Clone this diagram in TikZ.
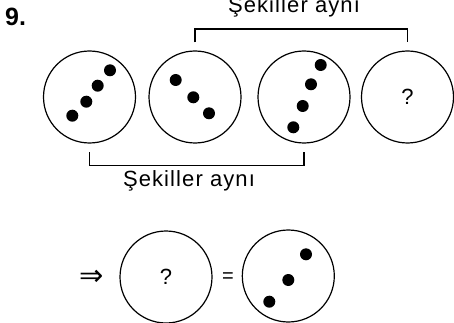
\documentclass[tikz,border=0pt]{standalone}
\usepackage{fontspec}
\setmainfont{Liberation Sans}
\newfontfamily\spacedfont[LetterSpace=5]{Liberation Sans}
\newfontfamily\symfont{DejaVu Sans}
\usetikzlibrary{calc}
\begin{document}
\begin{tikzpicture}[x=1pt,y=1pt,
  ring/.style={circle,draw,line width=1.2pt,minimum size=92pt,inner sep=0pt,font=\fontsize{22}{24}\selectfont},
  dot/.style={circle,fill=black,minimum size=12pt,inner sep=0pt},
  lbl/.style={font=\spacedfont\fontsize{22}{24}\selectfont,anchor=base,inner sep=0pt},
  brk/.style={line width=1.2pt}]
\useasboundingbox (0,-323) rectangle (454,0);
\node[anchor=base west,inner sep=0pt,font=\bfseries\fontsize{25}{28}\selectfont] (num) at (5,-26) {9.};
% top row
\node[ring] (c1) at (89.5,-97) {};
\node[ring] (c2) at (195,-97) {};
\node[ring] (c3) at (304,-97) {};
\node[ring] (c4) at (407.5,-97) {?};
% dots circle 1
\node[dot] (d11) at (110,-70.3) {};
\node[dot] (d12) at (97.7,-85.7) {};
\node[dot] (d13) at (86.3,-101.7) {};
\node[dot] (d14) at (72.3,-115.7) {};
% dots circle 2
\node[dot] (d21) at (175.7,-80) {};
\node[dot] (d22) at (193.3,-97.3) {};
\node[dot] (d23) at (209,-113.3) {};
% dots circle 3
\node[dot] (d31) at (320.7,-65) {};
\node[dot] (d32) at (311,-84.3) {};
\node[dot] (d33) at (302.7,-106) {};
\node[dot] (d34) at (293.3,-127.3) {};
% brackets
\draw[brk] ([yshift=8pt]c2.north) -- ++(0,13.3) -| ([yshift=8pt]c4.north);
\node[lbl] (t1) at (294,-12.5) {Şekiller aynı};
\draw[brk] ([yshift=-8.7pt]c1.south) -- ++(0,-13) -| ([yshift=-8.7pt]c3.south);
\node[lbl] (t2) at (189,-186.7) {Şekiller aynı};
% bottom row
\node[inner sep=0pt,font=\symfont\fontsize{29}{30}\selectfont] (imp) at (91.7,-277.7) {⇒};
\node[ring] (b1) at (166,-277) {?};
\node[inner sep=0pt,font=\fontsize{20}{22}\selectfont] (eq) at (228,-277.7) {=};
\node[ring] (b2) at (288.3,-276) {};
\node[dot] (e1) at (306,-254.3) {};
\node[dot] (e2) at (288.3,-280) {};
\node[dot] (e3) at (269.3,-301.7) {};
\end{tikzpicture}
\end{document}
